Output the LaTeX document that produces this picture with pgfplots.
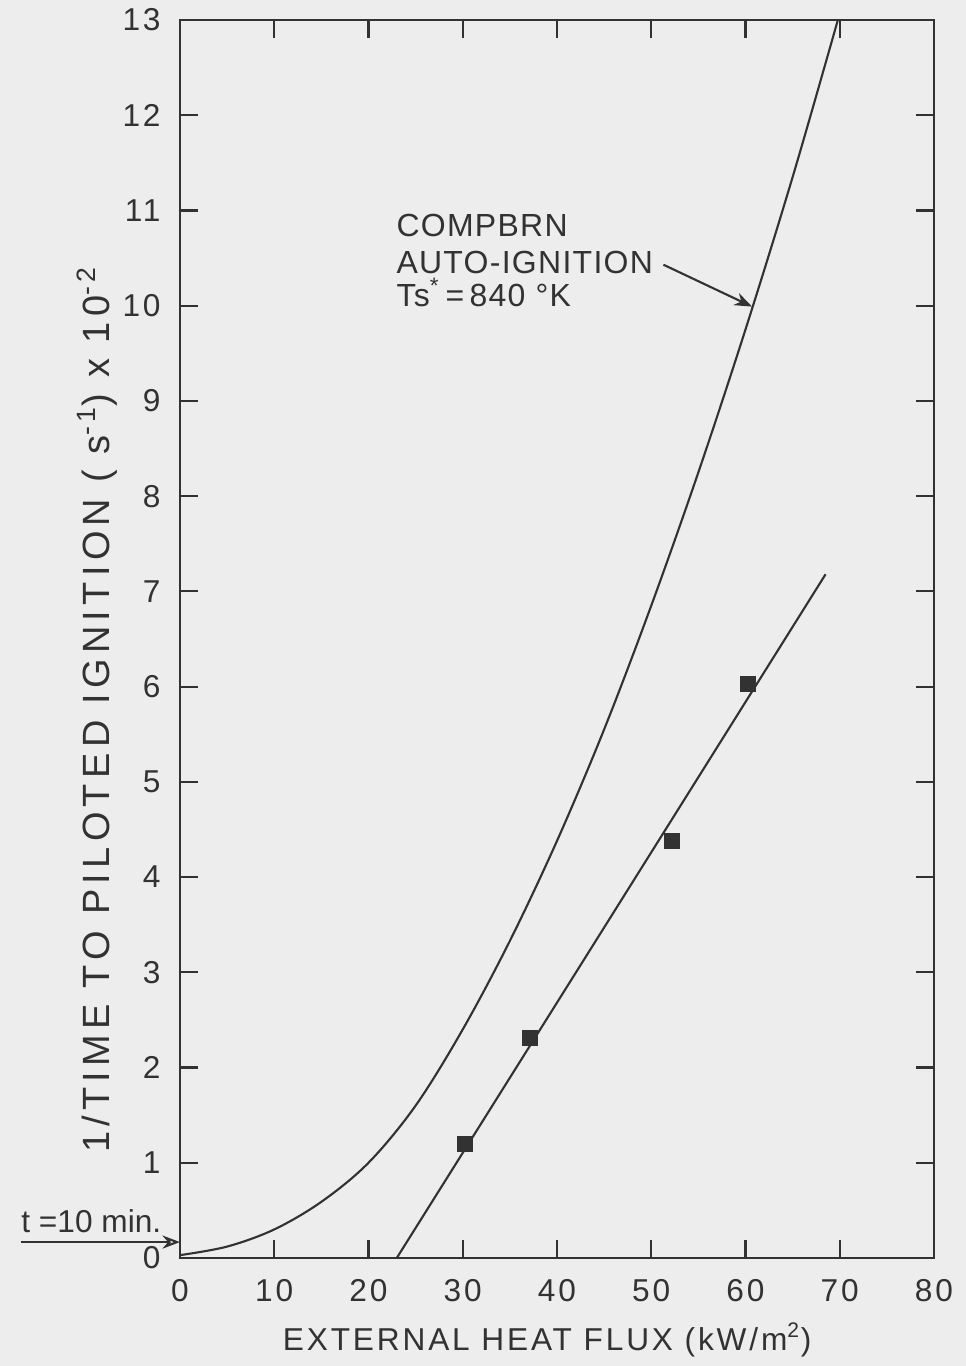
\documentclass[border=0pt]{standalone}
\usepackage{fontspec}
\setmainfont{Liberation Sans}
\newfontfamily\tickfont[LetterSpace=9]{Liberation Sans}
\newfontfamily\xlabfont[LetterSpace=9]{Liberation Sans}
\newfontfamily\ylabfont[LetterSpace=14]{Liberation Sans}
\newfontfamily\notefont[LetterSpace=4]{Liberation Sans}
\usepackage{pgfplots}
\usepackage{pgfplotstable}
\pgfplotsset{compat=1.18}
\usetikzlibrary{backgrounds,arrows.meta}
\definecolor{bg}{RGB}{237,237,237}
\definecolor{ink}{RGB}{50,50,50}

\pgfplotstableread{
x y
0 0.03
5 0.12
10 0.30
15 0.59
20 1.00
25 1.60
30 2.40
35 3.33
40 4.38
45 5.55
50 6.85
55 8.25
60 9.75
65 11.35
69.8 13.0
}\autoign

\pgfplotstableread{
x y
23.0 0
45.0 3.47
68.5 7.18
}\fitline

\pgfplotstableread{
x y
30.2 1.20
37.1 2.31
52.2 4.38
60.3 6.03
}\measured

\begin{document}
\begin{tikzpicture}
\begin{axis}[name=ax, at={(0,0)}, anchor=south west,
  scale only axis, width=7.54cm, height=12.38cm,
  xmin=0, xmax=80, ymin=0, ymax=13,
  xtick={0,10,...,80}, ytick={0,1,...,13},
  tick align=inside, major tick length=5pt,
  tick style={ink, line width=0.6pt},
  axis line style={ink, line width=0.7pt},
  ticklabel style={font=\tickfont\fontsize{9}{10}\selectfont, text=ink},
  /pgf/number format/assume math mode=true,
  xticklabel style={yshift=-2.5pt},
  yticklabel style={xshift=-2pt},
  clip=false,
  xlabel={EXTERNAL HEAT FLUX (kW/m\textsuperscript{2})},
  ylabel={1/TIME TO PILOTED IGNITION ( s\textsuperscript{-1}) x 10\textsuperscript{-2}},
  xlabel style={at={(axis description cs:0.487,-0.066)}, anchor=center, font=\xlabfont\fontsize{9}{10}\selectfont, text=ink},
  ylabel style={at={(axis description cs:-0.11,0.443)}, anchor=center, rotate=0, font=\ylabfont\fontsize{10.8}{12}\selectfont, text=ink},
]
\addplot[ink, line width=0.6pt, smooth, tension=0.55, no marks] table {\autoign};
\addplot[ink, line width=0.6pt, no marks] table {\fitline};
\addplot[only marks, mark=square*, mark size=2.1pt, ink] table {\measured};

\node[anchor=base west, inner sep=0pt, font=\notefont\fontsize{9.1}{11}\selectfont, text=ink] at (axis cs:22.9,10.73) {COMPBRN};
\node[anchor=base west, inner sep=0pt, font=\notefont\fontsize{9.1}{11}\selectfont, text=ink] at (axis cs:22.9,10.34) {AUTO-IGNITION};
\node[anchor=base west, inner sep=0pt, font=\notefont\fontsize{9.1}{11}\selectfont, text=ink] at (axis cs:22.9,9.99) {Ts\textsuperscript{*}\,=\,840 °K};
\draw[ink, line width=0.6pt, -{Stealth[length=5pt]}] (axis cs:51.3,10.43) -- (axis cs:60.7,9.99);

\node[anchor=base west, font=\fontsize{9}{10}\selectfont, text=ink, inner sep=0pt] at (axis cs:-16.9,0.27) {t =10 min.};
\draw[ink, line width=0.6pt, -{Stealth[length=5pt, open]}] (axis cs:-16.9,0.167) -- (axis cs:0,0.167);
\end{axis}
\pgfresetboundingbox
\path[use as bounding box] ([shift={(-1.80cm,-1.08cm)}]ax.south west) rectangle ([shift={(0.32cm,0.20cm)}]ax.north east);
\begin{pgfonlayer}{background}
\fill[bg] ([shift={(-1.80cm,-1.08cm)}]ax.south west) rectangle ([shift={(0.32cm,0.20cm)}]ax.north east);
\end{pgfonlayer}
\end{tikzpicture}
\end{document}
